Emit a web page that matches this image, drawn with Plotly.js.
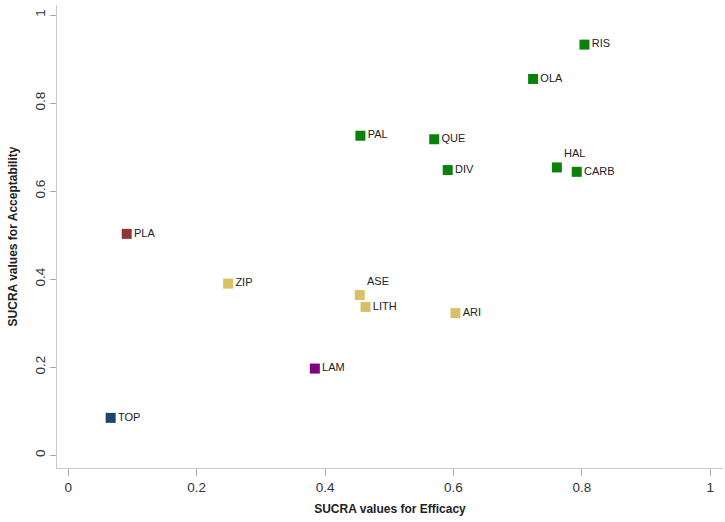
<!DOCTYPE html>
<html>
<head>
<meta charset="utf-8">
<script src="https://cdn.plot.ly/plotly-3.0.1.min.js"></script>
<style>html,body{margin:0;padding:0;background:#fff;}#chart{width:725px;height:522px;}</style>
</head>
<body>
<div id="chart"></div>
<script>
// Data
const labels = ["RIS","OLA","PAL","QUE","DIV","HAL","CARB","PLA","ZIP","TOP","ASE","LITH","ARI","LAM"];
const efficacy = [0.804,0.724,0.455,0.570,0.591,0.761,0.792,0.091,0.249,0.066,0.454,0.463,0.603,0.384];
const acceptability = [0.933,0.855,0.726,0.718,0.648,0.654,0.644,0.503,0.390,0.085,0.364,0.337,0.323,0.197];
const group = ["g","g","g","g","g","g","g","p","s","t","s","s","s","l"];
const labelPos = ["middle right","middle right","middle right","middle right","middle right","top right","middle right","middle right","middle right","middle right","top right","middle right","middle right","middle right"];

const colorMap = {g:"#0b800b", p:"#90353b", s:"#d8c066", t:"#1a476f", l:"#800080"};

const trace = {
  type: "scatter",
  mode: "markers+text",
  x: efficacy,
  y: acceptability,
  text: labels,
  textposition: labelPos,
  textfont: {family: "Liberation Sans, Arial, sans-serif", size: 11, color: "#222"},
  marker: {symbol: "square", size: 10, color: group.map(g => colorMap[g])},
  cliponaxis: false,
  hoverinfo: "x+y+text"
};

const tickFont = {family: "Liberation Sans, Arial, sans-serif", size: 13.5, color: "#333"};
const titleFont = {family: "Liberation Sans, Arial, sans-serif", size: 12, color: "#222"};

const layout = {
  width: 725, height: 522,
  margin: {l: 57, r: 2, t: 5, b: 54},
  paper_bgcolor: "#fff", plot_bgcolor: "#fff",
  showlegend: false,
  font: tickFont,
  xaxis: {
    range: [-0.0176, 1.0198],
    tickvals: [0, 0.2, 0.4, 0.6, 0.8, 1],
    ticktext: ["0", "0.2", "0.4", "0.6", "0.8", "1"],
    showgrid: false, zeroline: false,
    showline: true, linecolor: "#c8c8c8", linewidth: 1,
    ticks: "outside", ticklen: 7, tickcolor: "#aaa", tickwidth: 1,
    tickfont: tickFont,
    title: {text: "<b>SUCRA values for Efficacy</b>", font: titleFont, standoff: 10}
  },
  yaxis: {
    range: [-0.0289, 1.023],
    tickvals: [0, 0.2, 0.4, 0.6, 0.8, 1],
    ticktext: ["0", "0.2", "0.4", "0.6", "0.8", "1"],
    tickangle: -90,
    showgrid: false, zeroline: false,
    showline: true, linecolor: "#c8c8c8", linewidth: 1,
    ticks: "outside", ticklen: 6, tickcolor: "#aaa", tickwidth: 1,
    tickfont: tickFont,
    title: {text: "<b>SUCRA values for Acceptability</b>", font: titleFont, standoff: 12}
  }
};

Plotly.newPlot("chart", [trace], layout, {displayModeBar: false, staticPlot: true});
</script>
</body>
</html>
